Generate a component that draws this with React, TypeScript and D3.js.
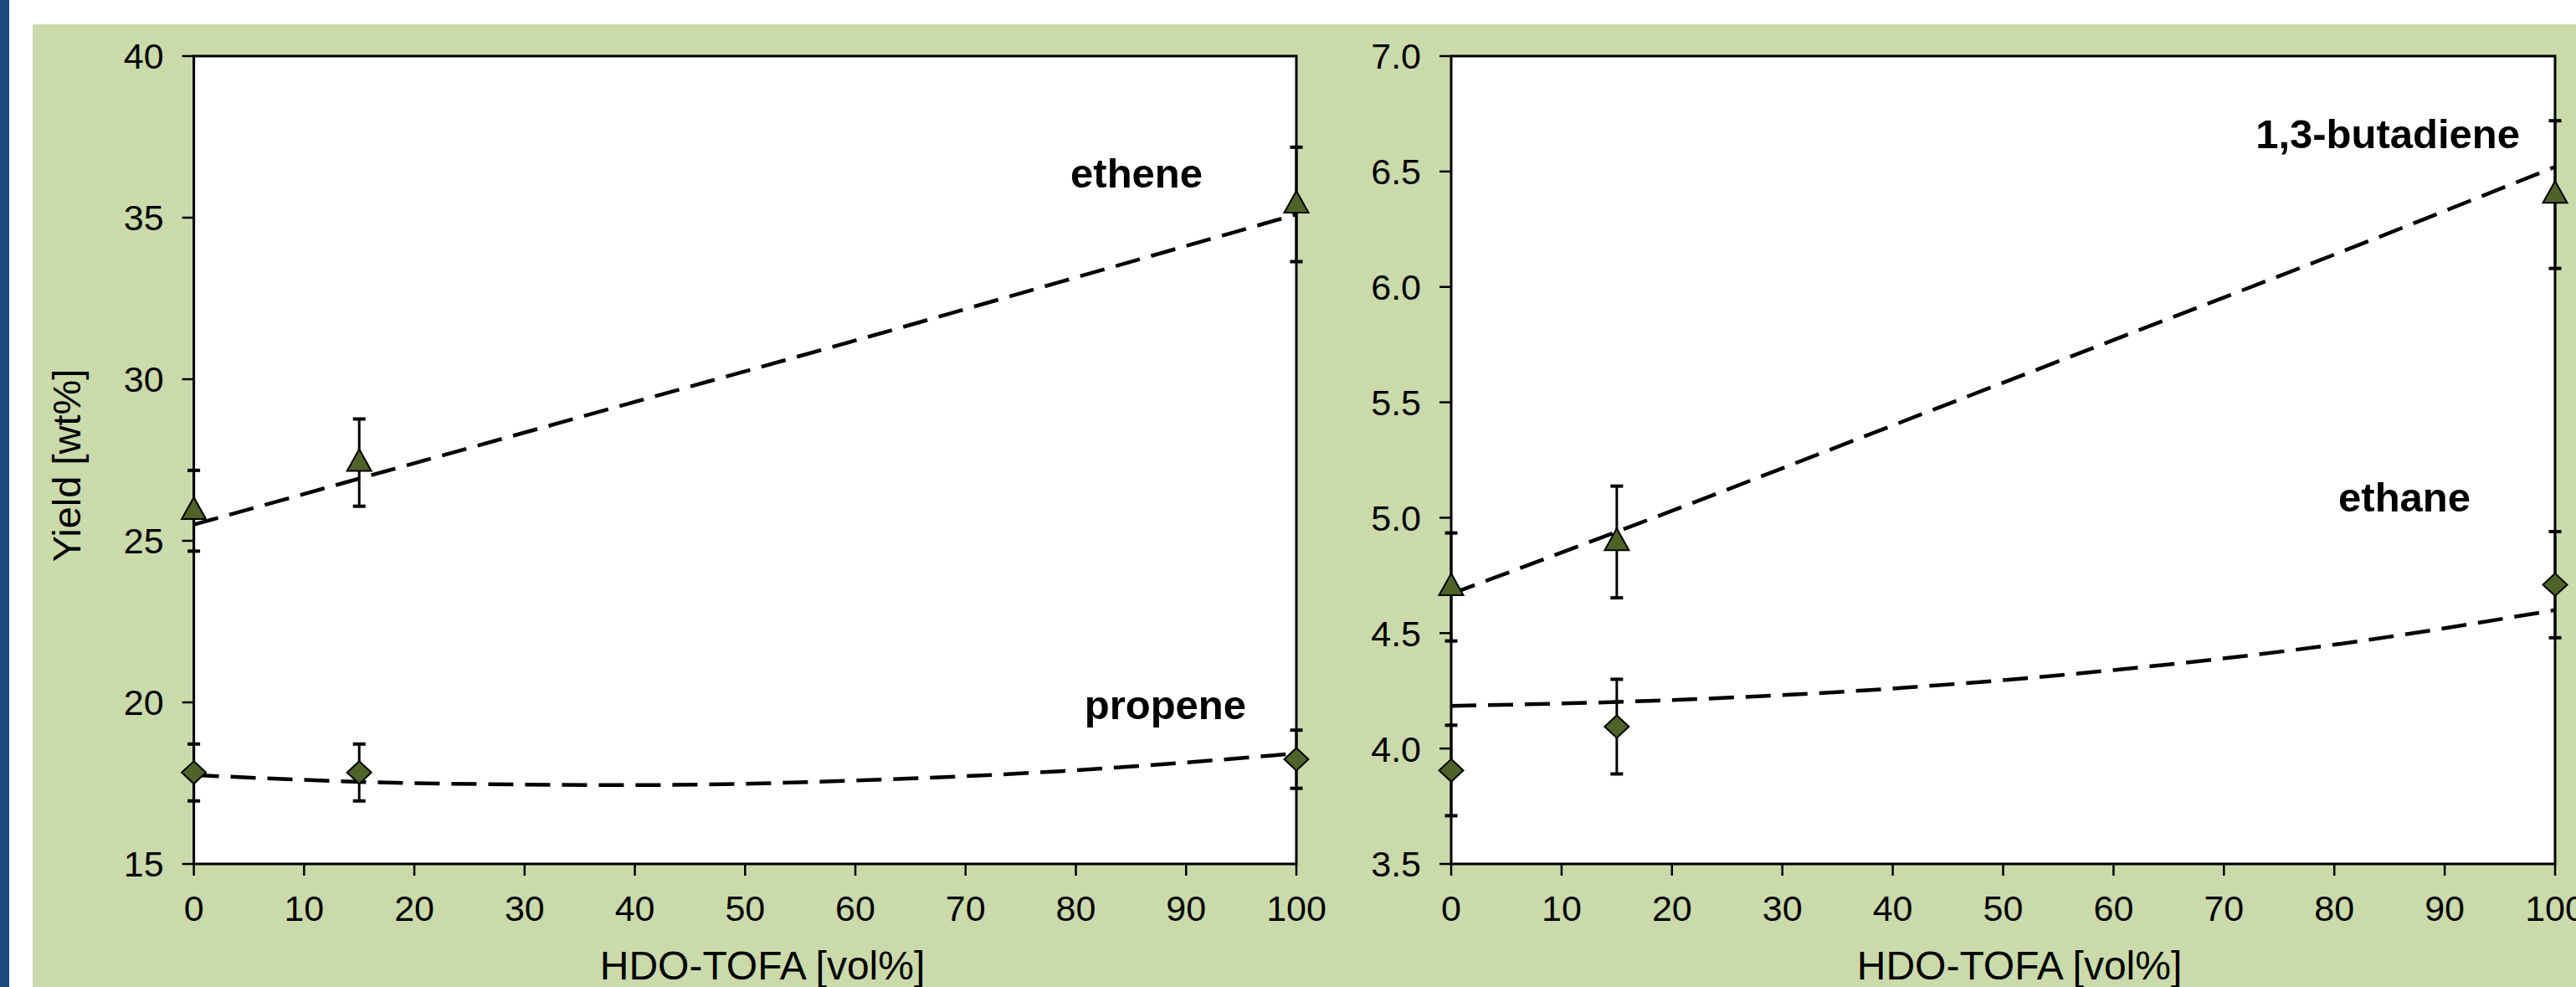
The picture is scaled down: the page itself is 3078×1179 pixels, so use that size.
import React from "react";
import * as d3 from "d3";

// ---- data ----
const hdoTofa = [0, 15, 100];
const etheneYield = [25.93, 27.42, 35.41];
const etheneErr = [1.25, 1.35, 1.77];
const propeneYield = [17.83, 17.83, 18.24];
const propeneErr = [0.88, 0.88, 0.9];
const butadieneYield = [4.7, 4.895, 6.4];
const butadieneErr = [0.234, 0.242, 0.32];
const ethaneYield = [3.905, 4.095, 4.71];
const ethaneErr = [0.196, 0.205, 0.23];

// trend lines
const trendX = [0, 20, 40, 60, 80, 100];
const etheneTrend = [25.5, 27.4, 29.3, 31.2, 33.15, 35.1];
const propeneTrend = [17.75, 17.5, 17.44, 17.58, 17.9, 18.42];
const butadieneTrend = [4.67, 5.03, 5.4, 5.77, 6.14, 6.52];
const ethaneTrend = [4.185, 4.21, 4.26, 4.34, 4.45, 4.6];

const xTicks = [0, 10, 20, 30, 40, 50, 60, 70, 80, 90, 100];
const leftYTicks = [15, 20, 25, 30, 35, 40];
const rightYTicks = [3.5, 4.0, 4.5, 5.0, 5.5, 6.0, 6.5, 7.0];

const xTitle = "HDO-TOFA [vol%]";
const yTitle = "Yield [wt%]";

const W = 3078;
const H = 1179;
const FONT = "'Liberation Sans', Arial, Helvetica, sans-serif";
const GREEN = "#cbdaab";
const BLUE = "#1f497d";
const MARK = "#4f6228";

type Series = {
  y: number[];
  err: number[];
  trend: number[];
  marker: "tri" | "dia";
  label: string;
  labelX: number; // right end, px
  labelY: number; // baseline, px
};

function Panel(props: {
  x0: number;
  x1: number;
  y0: number;
  y1: number;
  domain: [number, number];
  yTicks: number[];
  fmt: (v: number) => string;
  series: Series[];
  titleX: number;
}) {
  const { x0, x1, y0, y1, domain, yTicks, fmt, series, titleX } = props;
  const x = d3.scaleLinear().domain([0, 100]).range([x0, x1]);
  const y = d3.scaleLinear().domain(domain).range([y1, y0]);
  const line = d3
    .line<number>()
    .x((_, i) => x(trendX[i]))
    .y((d) => y(d))
    .curve(d3.curveMonotoneX);

  const tri = (cx: number, cy: number) => {
    const w = 29, h = 26;
    return `M${cx},${cy - h * 0.62} L${cx + w / 2},${cy + h * 0.38} L${cx - w / 2},${cy + h * 0.38} Z`;
  };
  const dia = (cx: number, cy: number) => {
    const w = 29, h = 27;
    return `M${cx},${cy - h / 2} L${cx + w / 2},${cy} L${cx},${cy + h / 2} L${cx - w / 2},${cy} Z`;
  };

  return (
    <g>
      <rect x={x0} y={y0} width={x1 - x0} height={y1 - y0} fill="#ffffff" stroke="#000" strokeWidth={3} />
      {/* y ticks */}
      {yTicks.map((t) => (
        <g key={"y" + t}>
          <line x1={x0 - 14} x2={x0} y1={y(t)} y2={y(t)} stroke="#000" strokeWidth={2.5} />
          <text x={x0 - 36} y={y(t)} dy="0.36em" textAnchor="end" fontSize={43} fontFamily={FONT} fill="#000">
            {fmt(t)}
          </text>
        </g>
      ))}
      {/* x ticks */}
      {xTicks.map((t) => (
        <g key={"x" + t}>
          <line x1={x(t)} x2={x(t)} y1={y1} y2={y1 + 14} stroke="#000" strokeWidth={2.5} />
          <text x={x(t)} y={1100} textAnchor="middle" fontSize={43} fontFamily={FONT} fill="#000">
            {t}
          </text>
        </g>
      ))}
      <text x={titleX} y={1170} textAnchor="middle" fontSize={48} fontFamily={FONT} fill="#000">
        {xTitle}
      </text>
      {series.map((s, si) => (
        <g key={"s" + si}>
          <path d={line(s.trend) || ""} fill="none" stroke="#000" strokeWidth={4.5} strokeDasharray="30 14" />
          {hdoTofa.map((hx, i) => {
            const cx = x(hx);
            const top = y(s.y[i] + s.err[i]);
            const bot = y(s.y[i] - s.err[i]);
            return (
              <g key={i}>
                <line x1={cx} x2={cx} y1={top} y2={bot} stroke="#000" strokeWidth={3} />
                <line x1={cx - 7.5} x2={cx + 7.5} y1={top} y2={top} stroke="#000" strokeWidth={4} />
                <line x1={cx - 7.5} x2={cx + 7.5} y1={bot} y2={bot} stroke="#000" strokeWidth={4} />
              </g>
            );
          })}
          {hdoTofa.map((hx, i) => (
            <path
              key={"m" + i}
              d={s.marker === "tri" ? tri(x(hx), y(s.y[i])) : dia(x(hx), y(s.y[i]))}
              fill={MARK}
              stroke="#000"
              strokeWidth={2}
            />
          ))}
          <text
            x={s.labelX}
            y={s.labelY}
            textAnchor="end"
            fontSize={49}
            fontWeight="bold"
            fontFamily={FONT}
            fill="#000"
          >
            {s.label}
          </text>
        </g>
      ))}
    </g>
  );
}

export default function App() {
  return (
    <svg
      width={W}
      height={H}
      viewBox={`0 0 ${W} ${H}`}
      style={{ position: "absolute", left: 0, top: 0, display: "block" }}
    >
      <rect x={0} y={0} width={W} height={H} fill="#ffffff" />
      <rect x={0} y={0} width={11} height={H} fill={BLUE} />
      <rect x={39} y={29} width={W - 39} height={H - 29} fill={GREEN} />
      <text
        transform={`translate(96,556) rotate(-90)`}
        textAnchor="middle"
        fontSize={47}
        fontFamily={FONT}
        fill="#000"
      >
        {yTitle}
      </text>
      <Panel
        x0={231.6}
        x1={1549}
        y0={67}
        y1={1032}
        domain={[15, 40]}
        yTicks={leftYTicks}
        fmt={(v) => String(v)}
        titleX={911}
        series={[
          { y: etheneYield, err: etheneErr, trend: etheneTrend, marker: "tri", label: "ethene", labelX: 1437, labelY: 224 },
          { y: propeneYield, err: propeneErr, trend: propeneTrend, marker: "dia", label: "propene", labelX: 1489, labelY: 859 },
        ]}
      />
      <Panel
        x0={1734}
        x1={3053}
        y0={67}
        y1={1032}
        domain={[3.5, 7.0]}
        yTicks={rightYTicks}
        fmt={(v) => v.toFixed(1)}
        titleX={2413}
        series={[
          { y: butadieneYield, err: butadieneErr, trend: butadieneTrend, marker: "tri", label: "1,3-butadiene", labelX: 3011, labelY: 177 },
          { y: ethaneYield, err: ethaneErr, trend: ethaneTrend, marker: "dia", label: "ethane", labelX: 2952, labelY: 611 },
        ]}
      />
    </svg>
  );
}
